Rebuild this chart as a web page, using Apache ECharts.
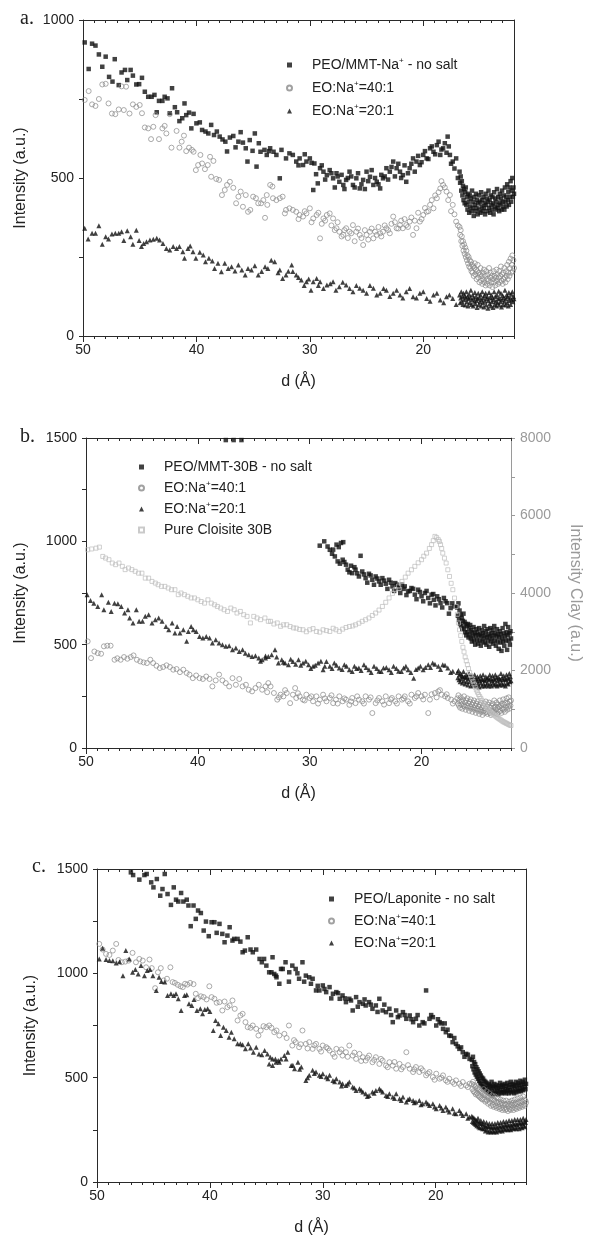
<!DOCTYPE html>
<html><head><meta charset="utf-8">
<script src="https://cdn.jsdelivr.net/npm/echarts@6/dist/echarts.min.js"></script>
<style>html,body{margin:0;padding:0;background:#fff}#c{width:591px;height:1238px}</style>
</head><body><div id="c"></div>
<script>
// ---------- DATA (d in Å, intensity in a.u.) ----------
const xMajor = [20, 30, 40, 50];
const legendA = ['PEO/MMT-Na+ - no salt', 'EO:Na+=40:1', 'EO:Na+=20:1'];
const legendB = ['PEO/MMT-30B - no salt', 'EO:Na+=40:1', 'EO:Na+=20:1', 'Pure Cloisite 30B'];
const legendC = ['PEO/Laponite - no salt', 'EO:Na+=40:1', 'EO:Na+=20:1'];

const aNoSalt = [[49.85,929],[49.5,845],[49.2,925],[48.9,919],[48.6,891],[48.3,852],[48.0,884],[47.7,820],[47.4,805],[47.2,876],[46.85,794],[46.6,834],[46.3,842],[46.1,810],[45.8,842],[45.6,824],[45.3,796],[45.05,797],[44.8,817],[44.55,773],[44.25,757],[43.95,757],[43.7,763],[43.5,708],[43.3,744],[43.0,744],[42.8,757],[42.55,752],[42.35,705],[42.15,784],[41.9,724],[41.7,708],[41.5,680],[41.25,689],[41.05,736],[40.9,699],[40.65,707],[40.45,657],[40.25,703],[40.0,673],[39.7,676],[39.5,652],[39.2,647],[38.95,641],[38.7,668],[38.45,636],[38.2,647],[37.95,631],[37.7,622],[37.45,615],[37.3,584],[37.05,628],[36.75,633],[36.55,597],[36.3,615],[36.1,645],[35.9,612],[35.65,594],[35.5,552],[35.3,620],[35.05,586],[34.85,641],[34.7,536],[34.5,610],[34.35,583],[34.0,589],[33.8,573],[33.6,585],[33.5,594],[33.2,583],[32.95,573],[32.65,499],[32.5,589],[32.1,562],[31.8,578],[31.5,573],[31.2,552],[30.9,562],[30.6,541],[30.3,552],[30.0,562],[29.7,462],[29.6,546],[29.3,483],[29.1,531],[28.8,520],[28.5,509],[28.25,525],[27.95,499],[27.65,515],[27.4,488],[27.05,478],[26.8,494],[26.5,520],[26.2,478],[25.9,499],[25.6,467],[25.3,494],[25.0,520],[24.7,504],[24.4,478],[24.1,488],[23.8,467],[23.55,499],[23.25,531],[22.95,520],[22.65,552],[22.35,531],[22.05,520],[21.8,509],[21.5,488],[21.2,531],[20.9,562],[20.6,552],[20.3,541],[20.0,573],[19.7,562],[19.4,594],[19.1,583],[18.8,604],[18.5,573],[18.25,594],[17.85,631],[17.65,573],[17.4,552],[17.1,562],
[31.0,540],[30.45,575],[29.85,548],[29.45,512],[28.95,540],[28.65,495],[28.1,515],[27.8,470],[27.55,505],[27.2,510],[26.95,465],[26.65,500],[26.35,505],[26.05,470],[25.75,515],[25.45,480],[25.15,465],[24.85,490],[24.55,525],[24.25,500],[23.95,480],[23.7,510],[23.4,505],[23.1,495],[22.8,535],[22.5,505],[22.2,545],[21.95,500],[21.65,540],[21.35,515],[21.05,545],[20.75,520],[20.45,570],[20.15,550],[19.85,585],[19.55,560],[19.25,600],[18.95,575],[18.65,615],[18.4,590],[18.1,610],[17.95,580],[17.75,600],[17.55,545],[17.25,530],[16.95,500],
[16.80,520],[16.75,485],[16.70,505],[16.65,460],[16.60,490],[16.55,445],[16.50,475],[16.45,430],[16.40,465],[16.35,420],[16.30,455],[16.25,470],[16.20,415],[16.15,440],[16.10,400],[16.05,450],[16.00,425],[15.95,390],[15.90,445],[15.85,410],[15.80,435],[15.75,395],[15.70,460],[15.65,405],[15.60,425],[15.55,380],[15.50,440],[15.45,415],[15.40,395],[15.35,450],[15.30,405],[15.25,430],[15.20,385],[15.15,420],[15.10,445],[15.05,400],[15.00,425],[14.95,390],[14.90,455],[14.85,410],[14.80,430],[14.75,395],[14.70,440],[14.65,405],[14.60,420],[14.55,385],[14.50,450],[14.45,415],[14.40,435],[14.35,395],[14.30,425],[14.25,460],[14.20,405],[14.15,430],[14.10,390],[14.05,445],[14.00,415],[13.95,400],[13.90,440],[13.85,420],[13.80,385],[13.75,455],[13.70,410],[13.65,435],[13.60,400],[13.55,425],[13.50,465],[13.45,405],[13.40,440],[13.35,415],[13.30,395],[13.25,450],[13.20,420],[13.15,435],[13.10,400],[13.05,460],[13.00,425],[12.95,410],[12.90,445],[12.85,400],[12.80,470],[12.75,425],[12.70,440],[12.65,410],[12.60,480],[12.55,430],[12.50,455],[12.45,415],[12.40,470],[12.35,440],[12.30,490],[12.25,425],[12.20,460],[12.15,500],[12.10,440],[12.05,470],[12.00,450]];

const a40 = [[49.85,747],[49.5,775],[49.2,733],[48.9,728],[48.6,750],[48.3,796],[48.0,798],[47.75,736],[47.45,704],[47.15,702],[46.85,717],[46.6,790],[46.4,715],[46.2,789],[45.9,704],[45.6,733],[45.3,725],[45.0,731],[44.8,705],[44.55,660],[44.25,657],[44.0,623],[43.8,662],[43.6,699],[43.3,623],[43.0,657],[42.8,665],[42.65,641],[42.35,702],[42.2,596],[41.75,649],[41.5,596],[41.3,615],[41.1,634],[40.9,585],[40.65,596],[40.4,589],[40.25,583],[40.05,525],[39.85,541],[39.65,573],[39.5,546],[39.25,528],[39.0,541],[38.8,567],[38.7,504],[38.5,554],[38.25,497],[38.0,494],[37.75,446],[37.5,462],[37.3,478],[37.05,488],[36.75,469],[36.5,420],[36.3,441],[36.1,457],[35.9,409],[35.65,446],[35.45,393],[35.25,399],[35.0,441],[34.75,436],[34.55,420],[34.3,420],[34.1,430],[33.95,374],[33.75,415],[33.5,478],[33.3,473],[33.8,446],[33.25,436],[32.95,430],[32.65,436],[32.4,441],[32.2,388],[32.1,399],[31.8,404],[31.5,399],[31.2,393],[30.9,383],[30.6,378],[30.3,388],[30.0,404],[29.7,372],[29.4,383],[29.1,309],[28.8,372],[28.5,383],[28.25,388],[27.95,372],[27.65,341],[27.4,330],[27.05,320],[26.8,341],[26.5,330],[26.2,351],[25.9,330],[25.6,320],[25.3,288],[25.0,320],[24.7,330],[24.4,309],[24.1,320],[23.8,325],[23.55,330],[23.25,341],[22.95,325],[22.65,378],[22.35,341],[22.05,351],[21.8,341],[21.5,351],[21.2,362],[20.9,320],[20.6,341],[20.3,362],[20.0,383],[19.7,393],[19.4,415],[19.1,404],[18.8,436],[18.5,467],[18.25,478],[17.95,457],[17.65,446],[17.4,415],[17.1,362],
[31.0,370],[30.45,395],[29.85,360],[29.25,390],[28.95,355],[28.65,365],[28.1,350],[27.8,335],[27.55,360],[27.2,315],[26.95,335],[26.65,310],[26.35,325],[26.05,300],[25.75,340],[25.45,310],[25.15,335],[24.85,305],[24.55,340],[24.25,330],[23.95,345],[23.7,315],[23.4,350],[23.1,335],[22.8,355],[22.5,360],[22.2,340],[21.95,365],[21.65,370],[21.35,345],[21.05,375],[20.75,365],[20.45,390],[20.15,370],[19.85,405],[19.55,395],[19.25,430],[18.95,445],[18.65,455],[18.4,490],[18.1,470],[17.8,430],[17.55,395],[17.25,385],[16.95,350],
[16.80,345],[16.75,320],[16.70,335],[16.65,300],[16.60,315],[16.55,285],[16.50,300],[16.45,270],[16.40,290],[16.35,260],[16.30,280],[16.25,250],[16.20,270],[16.15,240],[16.10,255],[16.05,230],[16.00,250],[15.95,220],[15.90,240],[15.85,215],[15.80,235],[15.75,205],[15.70,225],[15.65,200],[15.60,220],[15.55,190],[15.50,215],[15.45,230],[15.40,195],[15.35,210],[15.30,180],[15.25,205],[15.20,225],[15.15,185],[15.10,200],[15.05,170],[15.00,195],[14.95,215],[14.90,175],[14.85,190],[14.80,165],[14.75,200],[14.70,180],[14.65,210],[14.60,170],[14.55,190],[14.50,160],[14.45,205],[14.40,180],[14.35,165],[14.30,195],[14.25,175],[14.20,215],[14.15,160],[14.10,185],[14.05,200],[14.00,170],[13.95,190],[13.90,155],[13.85,180],[13.80,205],[13.75,170],[13.70,190],[13.65,160],[13.60,185],[13.55,210],[13.50,175],[13.45,195],[13.40,165],[13.35,185],[13.30,205],[13.25,170],[13.20,190],[13.15,220],[13.10,175],[13.05,195],[13.00,165],[12.95,200],[12.90,180],[12.85,215],[12.80,185],[12.75,170],[12.70,205],[12.65,190],[12.60,225],[12.55,180],[12.50,200],[12.45,235],[12.40,190],[12.35,215],[12.30,245],[12.25,200],[12.20,225],[12.15,255],[12.10,205],[12.05,240],[12.00,215]];

const a20 = [[49.85,341],[49.55,307],[49.2,325],[48.9,325],[48.6,349],[48.3,290],[48.0,314],[47.75,307],[47.45,323],[47.15,325],[46.85,325],[46.6,330],[46.4,302],[46.1,333],[45.8,314],[45.6,290],[45.3,335],[45.05,302],[44.85,283],[44.65,293],[44.4,298],[44.1,304],[43.8,306],[43.5,309],[43.25,304],[42.95,293],[42.65,277],[42.35,272],[42.05,283],[41.75,277],[41.5,283],[41.2,267],[41.05,246],[40.75,277],[40.55,285],[40.3,267],[40.05,246],[39.7,265],[39.4,256],[39.2,235],[38.9,246],[38.6,237],[38.4,214],[38.1,230],[37.8,203],[37.5,230],[37.2,214],[36.9,219],[36.6,206],[36.3,225],[36.0,209],[35.7,193],[35.45,214],[35.15,209],[34.85,222],[34.55,193],[34.25,204],[33.95,219],[33.7,214],[33.4,240],[33.1,235],[32.65,209],[32.4,182],[32.1,193],[31.6,225],[31.5,204],[31.2,193],[30.75,177],[30.3,172],[29.9,145],[29.7,172],[29.4,182],[29.1,172],[28.5,161],[27.95,172],[27.4,156],[26.8,161],[26.2,140],[25.6,151],[25.0,135],[24.4,151],[23.8,135],[23.25,145],[22.65,135],[22.05,130],[21.5,140],[20.9,124],[20.3,135],[19.7,119],[19.1,130],[18.5,114],[17.95,124],[17.4,119],
[32.8,200],[31.9,205],[31.0,185],[30.5,160],[30.1,180],[29.25,160],[28.8,150],[28.2,165],[27.7,145],[27.1,170],[26.5,150],[25.9,160],[25.3,145],[24.7,160],[24.1,130],[23.5,150],[22.95,125],[22.35,145],[21.8,120],[21.2,150],[20.6,120],[20.0,140],[19.4,110],[18.8,135],[18.2,105],[17.7,130],[17.1,100],
[16.80,130],[16.75,105],[16.70,120],[16.65,140],[16.60,110],[16.55,125],[16.50,100],[16.45,135],[16.40,115],[16.35,128],[16.30,98],[16.25,120],[16.20,140],[16.15,108],[16.10,125],[16.05,95],[16.00,118],[15.95,132],[15.90,105],[15.85,122],[15.80,145],[15.75,100],[15.70,115],[15.65,130],[15.60,95],[15.55,120],[15.50,110],[15.45,138],[15.40,102],[15.35,125],[15.30,112],[15.25,90],[15.20,118],[15.15,135],[15.10,100],[15.05,122],[15.00,108],[14.95,130],[14.90,95],[14.85,115],[14.80,140],[14.75,105],[14.70,120],[14.65,92],[14.60,128],[14.55,110],[14.50,135],[14.45,98],[14.40,118],[14.35,125],[14.30,88],[14.25,112],[14.20,138],[14.15,102],[14.10,120],[14.05,95],[14.00,130],[13.95,108],[13.90,122],[13.85,90],[13.80,115],[13.75,140],[13.70,100],[13.65,125],[13.60,110],[13.55,95],[13.50,130],[13.45,105],[13.40,118],[13.35,142],[13.30,98],[13.25,120],[13.20,108],[13.15,135],[13.10,92],[13.05,115],[13.00,128],[12.95,100],[12.90,122],[12.85,110],[12.80,145],[12.75,98],[12.70,118],[12.65,130],[12.60,105],[12.55,125],[12.50,95],[12.45,138],[12.40,112],[12.35,120],[12.30,100],[12.25,132],[12.20,115],[12.15,140],[12.10,108],[12.05,125],[12.00,118]];

const bNoSalt = [[37.5,1490],[36.8,1490],[36.1,1490],[29.1,979],[28.7,1000],[28.4,975],[28.2,959],[28.0,940],[27.9,960],[27.75,927],[27.6,984],[27.5,903],[27.4,972],[27.3,892],[27.2,992],[27.05,911],[27.0,996],[26.9,900],[26.75,887],[26.6,863],[26.45,850],[26.3,882],[26.2,846],[26.0,875],[25.9,863],[25.75,845],[25.6,830],[25.45,930],[25.3,854],[25.15,840],[25.0,822],[24.85,800],[24.7,843],[24.55,835],[24.4,814],[24.25,790],[24.1,830],[23.95,820],[23.8,806],[23.65,790],[23.5,822],[23.35,810],[23.2,795],[23.05,770],[22.9,814],[22.75,800],[22.6,782],[22.45,760],[22.35,798],[22.2,790],[22.05,774],[21.9,750],[21.75,790],[21.6,770],[21.5,782],[21.35,740],[21.2,758],[21.05,760],[20.9,774],[20.75,770],[20.6,742],[20.45,720],[20.3,766],[20.15,755],[20.0,734],[19.85,710],[19.7,750],[19.55,760],[19.4,726],[19.25,700],[19.1,742],[18.95,745],[18.9,717],[18.75,690],[18.6,734],[18.45,720],[18.3,701],[18.15,680],[18.0,726],[17.85,710],[17.7,701],[17.55,650],[17.4,677],[17.25,700],[17.05,685],
[16.80,680],[16.75,640],[16.70,700],[16.65,620],[16.60,665],[16.55,600],[16.50,645],[16.45,590],[16.40,630],[16.35,575],[16.30,615],[16.25,650],[16.20,580],[16.15,610],[16.10,560],[16.05,600],[16.00,545],[15.95,590],[15.90,560],[15.85,600],[15.80,535],[15.75,580],[15.70,550],[15.65,595],[15.60,530],[15.55,570],[15.50,515],[15.45,560],[15.40,540],[15.35,585],[15.30,520],[15.25,555],[15.20,500],[15.15,545],[15.10,575],[15.05,525],[15.00,560],[14.95,505],[14.90,545],[14.85,580],[14.80,520],[14.75,550],[14.70,495],[14.65,540],[14.60,570],[14.55,515],[14.50,555],[14.45,530],[14.40,590],[14.35,510],[14.30,545],[14.25,565],[14.20,500],[14.15,535],[14.10,575],[14.05,520],[14.00,550],[13.95,490],[13.90,540],[13.85,580],[13.80,515],[13.75,555],[13.70,530],[13.65,570],[13.60,505],[13.55,545],[13.50,590],[13.45,520],[13.40,555],[13.35,495],[13.30,540],[13.25,575],[13.20,515],[13.15,550],[13.10,480],[13.05,535],[13.00,565],[12.95,510],[12.90,550],[12.85,470],[12.80,530],[12.75,580],[12.70,515],[12.65,555],[12.60,495],[12.55,540],[12.50,600],[12.45,520],[12.40,560],[12.35,475],[12.30,545],[12.25,585],[12.20,520],[12.15,555],[12.10,500],[12.05,565],[12.00,530]];

const b40 = [[49.85,516],[49.55,435],[49.25,467],[48.95,459],[48.65,456],[48.4,492],[48.1,495],[47.8,495],[47.45,427],[47.2,434],[46.9,427],[46.6,440],[46.3,432],[46.0,440],[45.75,448],[45.45,427],[45.15,419],[44.85,414],[44.55,411],[44.25,427],[44.0,411],[43.7,398],[43.4,387],[43.1,392],[42.8,400],[42.5,392],[42.2,379],[41.9,382],[41.6,367],[41.3,379],[41.0,363],[40.75,355],[40.45,338],[40.15,351],[39.85,338],[39.55,334],[39.25,346],[38.95,334],[38.7,298],[38.4,327],[38.1,355],[37.8,327],[37.5,314],[37.2,298],[36.9,338],[36.6,306],[36.3,334],[36.0,298],[35.7,306],[35.45,282],[35.15,274],[34.85,290],[34.55,306],[34.25,282],[33.95,298],[33.7,314],[33.5,298],[33.2,266],[32.9,234],[32.6,258],[32.35,250],[32.05,266],[31.75,217],[31.5,258],[31.3,290],[31.2,242],[30.9,250],[30.6,234],[30.3,258],[30.0,242],[29.7,226],[29.4,250],[29.1,234],[28.8,258],[28.5,226],[28.2,242],[27.9,217],[27.65,234],[27.35,250],[27.05,226],[26.75,234],[26.45,209],[26.2,242],[25.9,217],[25.6,234],[25.3,226],[25.0,250],[24.7,234],[24.4,169],[24.1,217],[23.8,242],[23.5,226],[23.2,250],[22.9,217],[22.65,242],[22.35,226],[22.05,250],[21.75,234],[21.5,250],[21.2,226],[20.9,258],[20.6,242],[20.3,266],[20.0,250],[19.7,258],[19.4,169],[19.25,234],[18.8,266],[18.5,274],[18.2,258],[17.9,250],[17.65,242],[17.35,234],[17.05,226],
[33.8,270],[32.75,245],[32.2,280],[31.05,265],[30.45,230],[29.85,250],[29.25,215],[28.65,240],[28.05,255],[27.5,215],[26.9,240],[26.3,225],[25.75,250],[25.15,215],[24.55,245],[23.95,230],[23.35,210],[22.75,235],[22.2,215],[21.6,240],[21.05,215],[20.45,250],[19.85,235],[19.1,260],[18.65,245],[18.35,280],[17.75,260],[17.2,215],
[16.80,240],[16.75,215],[16.70,255],[16.65,205],[16.60,230],[16.55,195],[16.50,245],[16.45,210],[16.40,225],[16.35,190],[16.30,235],[16.25,205],[16.20,250],[16.15,200],[16.10,220],[16.05,185],[16.00,230],[15.95,205],[15.90,240],[15.85,195],[15.80,215],[15.75,180],[15.70,225],[15.65,200],[15.60,235],[15.55,190],[15.50,210],[15.45,175],[15.40,220],[15.35,195],[15.30,230],[15.25,185],[15.20,205],[15.15,170],[15.10,215],[15.05,190],[15.00,225],[14.95,180],[14.90,200],[14.85,165],[14.80,210],[14.75,185],[14.70,220],[14.65,175],[14.60,195],[14.55,160],[14.50,205],[14.45,180],[14.40,215],[14.35,170],[14.30,190],[14.25,225],[14.20,175],[14.15,200],[14.10,165],[14.05,210],[14.00,185],[13.95,220],[13.90,170],[13.85,195],[13.80,160],[13.75,205],[13.70,180],[13.65,215],[13.60,175],[13.55,195],[13.50,230],[13.45,170],[13.40,200],[13.35,185],[13.30,220],[13.25,165],[13.20,195],[13.15,210],[13.10,175],[13.05,200],[13.00,230],[12.95,180],[12.90,205],[12.85,170],[12.80,215],[12.75,190],[12.70,235],[12.65,185],[12.60,210],[12.55,175],[12.50,220],[12.45,195],[12.40,240],[12.35,185],[12.30,215],[12.25,200],[12.20,245],[12.15,190],[12.10,225],[12.05,205],[12.00,230]];

const b20 = [[49.9,742],[49.6,714],[49.3,701],[48.95,685],[48.6,742],[48.4,669],[48.0,705],[47.75,661],[47.45,701],[47.15,698],[46.85,685],[46.55,653],[46.25,669],[46.1,629],[45.8,605],[45.5,669],[45.25,613],[44.95,613],[44.7,637],[44.4,645],[44.1,605],[43.8,621],[43.5,629],[43.2,613],[42.85,588],[42.6,572],[42.3,605],[42.05,556],[41.85,588],[41.6,556],[41.3,572],[41.0,516],[40.85,564],[40.6,588],[40.4,572],[40.15,564],[39.85,540],[39.55,532],[39.25,540],[38.95,532],[38.7,508],[38.4,524],[38.1,508],[37.8,500],[37.5,492],[37.2,495],[36.9,475],[36.6,484],[36.3,467],[36.0,475],[35.75,459],[35.45,451],[35.15,443],[34.85,446],[34.55,435],[34.25,427],[33.95,435],[33.7,443],[33.4,451],[33.1,475],[32.8,411],[32.5,427],[32.2,411],[31.9,403],[31.5,419],[31.0,427],[30.6,411],[30.1,403],[29.7,395],[29.25,411],[28.8,379],[28.5,419],[28.2,395],[27.8,411],[27.35,387],[26.9,403],[26.45,379],[26.0,395],[25.6,387],[25.15,403],[24.7,379],[24.25,395],[23.8,371],[23.4,387],[22.9,379],[22.5,395],[22.05,371],[21.6,387],[21.2,379],[20.7,338],[20.3,387],[19.85,379],[19.4,403],[19.0,411],[18.5,395],[18.1,403],[17.65,387],[17.2,371],
[34.4,420],[33.95,445],[32.95,440],[32.35,415],[31.7,430],[31.25,405],[30.8,400],[30.35,420],[29.9,385],[29.5,400],[29.0,420],[28.65,395],[28.0,385],[27.6,400],[27.1,380],[26.7,395],[26.2,370],[25.8,385],[25.4,375],[24.95,390],[24.5,365],[24.0,385],[23.6,370],[23.15,390],[22.7,365],[22.25,385],[21.8,370],[21.4,395],[20.95,365],[20.5,380],[20.1,395],[19.65,390],[19.2,390],[18.8,405],[18.3,380],[17.9,400],[17.4,365],
[16.80,365],[16.75,340],[16.70,375],[16.65,330],[16.60,355],[16.55,320],[16.50,360],[16.45,335],[16.40,350],[16.35,315],[16.30,345],[16.25,370],[16.20,325],[16.15,345],[16.10,310],[16.05,340],[16.00,355],[15.95,320],[15.90,345],[15.85,305],[15.80,335],[15.75,360],[15.70,320],[15.65,340],[15.60,300],[15.55,335],[15.50,350],[15.45,315],[15.40,340],[15.35,305],[15.30,330],[15.25,355],[15.20,310],[15.15,335],[15.10,300],[15.05,325],[15.00,345],[14.95,310],[14.90,335],[14.85,295],[14.80,325],[14.75,350],[14.70,315],[14.65,335],[14.60,300],[14.55,330],[14.50,355],[14.45,310],[14.40,330],[14.35,300],[14.30,325],[14.25,345],[14.20,305],[14.15,335],[14.10,315],[14.05,340],[14.00,300],[13.95,330],[13.90,355],[13.85,310],[13.80,335],[13.75,300],[13.70,325],[13.65,350],[13.60,315],[13.55,335],[13.50,305],[13.45,330],[13.40,355],[13.35,310],[13.30,340],[13.25,300],[13.20,325],[13.15,345],[13.10,310],[13.05,335],[13.00,305],[12.95,330],[12.90,360],[12.85,315],[12.80,340],[12.75,305],[12.70,330],[12.65,350],[12.60,310],[12.55,335],[12.50,300],[12.45,330],[12.40,355],[12.35,315],[12.30,340],[12.25,310],[12.20,335],[12.15,360],[12.10,320],[12.05,345],[12.00,325]];

const bClay = [[49.85,5115],[49.5,5136],[49.1,5157],[48.8,5184],[48.5,4944],[48.25,4901],[47.95,4859],[47.65,4773],[47.35,4731],[47.05,4773],[46.75,4688],[46.5,4603],[46.2,4645],[45.9,4603],[45.6,4560],[45.3,4512],[45.0,4512],[44.7,4384],[44.4,4384],[44.1,4299],[43.8,4256],[43.55,4213],[43.25,4171],[42.95,4171],[42.65,4128],[42.35,4085],[42.05,4085],[41.75,3957],[41.5,4000],[41.2,3957],[40.9,3915],[40.6,3872],[40.3,3872],[40.0,3824],[39.7,3781],[39.4,3739],[39.1,3824],[38.8,3739],[38.5,3696],[38.25,3653],[37.95,3611],[37.65,3568],[37.35,3525],[37.05,3611],[36.75,3568],[36.5,3483],[36.2,3525],[35.9,3440],[35.6,3397],[35.3,3227],[35.0,3397],[34.7,3355],[34.4,3312],[34.0,3355],[33.7,3269],[33.5,3269],[32.9,3227],[32.35,3179],[31.75,3136],[31.2,3093],[30.6,3051],[30.0,3051],[29.4,3008],[28.8,3051],[28.2,3008],[27.65,3051],[27.05,3067],[26.45,3136],[25.9,3179],[25.3,3269],[24.7,3355],[24.1,3483],[23.5,3653],[22.9,3872],[22.35,4085],[21.75,4299],[21.2,4512],[20.6,4688],[20.0,4859],[19.55,5029],[19.1,5248],[18.8,5461],[18.5,5376],[18.3,5248],[18.1,5029],[17.8,4773],[17.5,4427],[17.2,4085],[16.9,3653],[16.7,3227],
[33.2,3200],[32.6,3140],[32.05,3180],[31.45,3100],[30.9,3060],[30.3,3000],[29.7,3080],[29.1,2990],[28.5,3030],[27.9,3090],[27.35,3010],[26.75,3110],[26.15,3150],[25.6,3220],[25.0,3310],[24.4,3420],[23.8,3560],[23.2,3760],[22.6,3990],[22.05,4180],[21.45,4410],[20.9,4600],[20.3,4780],[19.8,4950],[19.3,5150],[18.95,5350],[18.65,5430],[18.4,5330],[18.2,5150],[17.95,4900],[17.65,4600],[17.35,4250],[17.05,3870],[16.8,3450],
[16.6,3050],[16.5,2900],[16.4,2750],[16.3,2600],[16.2,2480],[16.1,2350],[16.0,2250],[15.9,2150],[15.8,2050],[15.7,1950],[15.6,1870],[15.5,1800],[15.4,1720],[15.3,1650],[15.2,1570],[15.1,1500],[15.0,1440],[14.9,1380],[14.8,1330],[14.7,1280],[14.6,1230],[14.5,1180],[14.4,1140],[14.3,1100],[14.2,1060],[14.1,1030],[14.0,990],[13.9,960],[13.8,930],[13.7,900],[13.6,875],[13.5,850],[13.4,825],[13.3,800],[13.2,780],[13.1,760],[13.0,740],[12.9,720],[12.8,700],[12.7,680],[12.6,665],[12.5,650],[12.4,635],[12.3,620],[12.2,605],[12.1,590],[12.0,580]];

const cNoSalt = [[47.0,1484],[46.8,1471],[46.25,1449],[45.8,1471],[45.6,1476],[45.2,1436],[45.0,1412],[44.7,1452],[44.4,1372],[44.2,1404],[44.0,1476],[43.75,1380],[43.45,1328],[43.2,1412],[43.0,1353],[42.8,1344],[42.55,1385],[42.35,1344],[42.05,1353],[41.9,1325],[41.7,1226],[41.45,1325],[41.25,1261],[41.05,1301],[40.8,1289],[40.55,1205],[40.35,1248],[40.1,1178],[39.85,1245],[39.6,1245],[39.4,1194],[39.15,1237],[38.9,1189],[38.7,1149],[38.45,1181],[38.25,1221],[38.0,1157],[37.85,1165],[37.55,1165],[37.3,1152],[37.1,1101],[36.9,1109],[36.65,1173],[36.4,1114],[36.2,1101],[35.9,1114],[35.6,1069],[35.4,1053],[35.2,1069],[35.0,1037],[34.75,1005],[34.55,1005],[34.3,997],[34.1,981],[33.85,950],[33.7,1021],[34.45,1077],[34.15,989],[33.55,1021],[33.3,1053],[32.97,1005],[32.7,1037],[32.4,1021],[32.1,974],[31.8,1053],[31.5,989],[31.2,981],[30.9,974],[30.6,918],[30.3,918],[30.0,942],[29.7,910],[29.4,934],[29.1,902],[28.8,910],[28.5,878],[28.25,894],[27.95,862],[27.65,878],[27.35,822],[27.05,886],[26.75,862],[26.45,854],[26.2,846],[25.9,862],[25.6,830],[25.3,846],[24.99,878],[24.7,822],[24.4,814],[24.1,830],[23.8,766],[23.5,822],[23.2,798],[22.9,814],[22.6,782],[22.3,798],[22.0,766],[21.75,782],[21.45,750],[21.15,766],[20.85,918],[20.55,782],[20.25,790],[19.95,750],[19.65,766],[19.35,734],[19.1,718],[18.8,702],[18.5,670],[18.2,662],[17.9,638],[17.6,622],[17.3,614],[17.0,590],
[33.0,960],[32.25,1000],[31.65,960],[31.05,950],[30.45,940],[29.85,925],[29.25,880],[28.65,905],[28.05,880],[27.5,870],[26.9,840],[26.3,875],[25.75,850],[25.15,815],[24.55,850],[23.95,800],[23.35,790],[22.75,800],[22.15,780],[21.6,800],[21.0,760],[20.4,800],[19.8,780],[19.5,760],[19.2,760],[18.95,730],[18.65,700],[18.35,690],[18.05,650],[17.75,645],[17.45,600],[17.15,610],
[16.80,585],[16.75,555],[16.70,600],[16.65,540],[16.60,575],[16.55,525],[16.50,565],[16.45,515],[16.40,550],[16.35,505],[16.30,540],[16.25,495],[16.20,530],[16.15,485],[16.10,520],[16.05,475],[16.00,510],[15.95,470],[15.90,500],[15.85,460],[15.80,495],[15.75,455],[15.70,485],[15.65,450],[15.60,480],[15.55,440],[15.50,475],[15.45,450],[15.40,465],[15.35,430],[15.30,470],[15.25,440],[15.20,460],[15.15,425],[15.10,455],[15.05,480],[15.00,435],[14.95,460],[14.90,420],[14.85,450],[14.80,470],[14.75,430],[14.70,455],[14.65,425],[14.60,465],[14.55,435],[14.50,450],[14.45,420],[14.40,460],[14.35,440],[14.30,475],[14.25,430],[14.20,455],[14.15,425],[14.10,465],[14.05,440],[14.00,460],[13.95,430],[13.90,470],[13.85,445],[13.80,425],[13.75,460],[13.70,435],[13.65,475],[13.60,440],[13.55,455],[13.50,425],[13.45,465],[13.40,440],[13.35,480],[13.30,430],[13.25,455],[13.20,470],[13.15,435],[13.10,460],[13.05,425],[13.00,465],[12.95,445],[12.90,480],[12.85,430],[12.80,460],[12.75,440],[12.70,475],[12.65,435],[12.60,465],[12.55,450],[12.50,485],[12.45,435],[12.40,465],[12.35,445],[12.30,480],[12.25,440],[12.20,470],[12.15,455],[12.10,490],[12.05,445],[12.00,470]];

const c40 = [[49.8,1141],[49.5,1114],[49.2,1093],[48.9,1088],[48.6,1109],[48.3,1141],[48.1,1064],[47.8,1053],[47.5,1056],[47.2,1061],[46.85,1098],[46.55,1053],[46.25,1069],[45.95,1061],[45.65,1029],[45.35,1066],[45.15,1025],[44.85,929],[44.6,1005],[44.35,1025],[44.1,966],[43.8,974],[43.5,1029],[43.3,958],[43.1,954],[42.85,945],[42.6,938],[42.4,934],[42.2,950],[42.0,946],[41.75,954],[41.45,948],[41.25,902],[41.05,881],[40.8,890],[40.55,886],[40.3,875],[40.05,938],[39.85,886],[39.6,878],[39.4,859],[39.15,862],[38.9,822],[38.7,865],[38.45,838],[38.25,846],[38.0,870],[37.8,830],[37.55,774],[37.3,798],[37.1,806],[36.85,766],[36.65,742],[36.4,739],[36.2,750],[35.9,734],[35.7,702],[35.5,726],[35.25,747],[35.0,742],[34.75,750],[34.55,739],[34.3,718],[34.1,726],[33.85,702],[33.4,710],[33.0,750],[32.7,654],[32.4,670],[32.1,646],[31.8,726],[31.5,662],[31.2,670],[30.9,638],[30.6,662],[30.3,638],[30.0,654],[29.7,646],[29.4,630],[29.1,614],[28.8,638],[28.5,622],[28.25,606],[27.95,622],[27.65,654],[27.35,606],[27.05,590],[26.75,614],[26.45,598],[26.2,582],[25.9,606],[25.6,574],[25.3,598],[24.99,566],[24.7,582],[24.4,558],[24.1,574],[23.8,558],[23.5,543],[23.2,566],[22.9,551],[22.6,622],[22.3,543],[22.0,527],[21.75,551],[21.45,527],[21.15,535],[20.85,511],[20.55,527],[20.25,503],[19.95,519],[19.65,495],[19.35,511],[19.1,487],[18.8,495],[18.5,479],[18.2,487],[17.9,471],[17.6,479],[17.3,463],[17.0,471],
[33.2,690],[32.55,680],[31.95,660],[31.35,640],[30.75,655],[30.15,625],[29.55,640],[28.95,600],[28.35,635],[27.8,600],[27.2,620],[26.6,580],[26.05,595],[25.45,585],[24.85,590],[24.25,550],[23.65,575],[23.05,540],[22.45,560],[21.9,540],[21.3,545],[20.7,520],[20.1,490],[19.5,500],[18.95,480],[18.35,470],[17.75,460],[17.15,455],
[16.80,470],[16.75,445],[16.70,480],[16.65,435],[16.60,465],[16.55,430],[16.50,455],[16.45,420],[16.40,460],[16.35,425],[16.30,450],[16.25,415],[16.20,445],[16.15,410],[16.10,440],[16.05,405],[16.00,435],[15.95,400],[15.90,430],[15.85,395],[15.80,425],[15.75,445],[15.70,395],[15.65,420],[15.60,385],[15.55,415],[15.50,435],[15.45,390],[15.40,410],[15.35,375],[15.30,405],[15.25,425],[15.20,380],[15.15,400],[15.10,365],[15.05,395],[15.00,415],[14.95,370],[14.90,395],[14.85,360],[14.80,390],[14.75,410],[14.70,365],[14.65,385],[14.60,355],[14.55,380],[14.50,400],[14.45,360],[14.40,385],[14.35,350],[14.30,375],[14.25,395],[14.20,355],[14.15,380],[14.10,345],[14.05,370],[14.00,390],[13.95,355],[13.90,375],[13.85,345],[13.80,370],[13.75,390],[13.70,350],[13.65,375],[13.60,340],[13.55,365],[13.50,385],[13.45,350],[13.40,375],[13.35,345],[13.30,370],[13.25,390],[13.20,355],[13.15,380],[13.10,345],[13.05,370],[13.00,395],[12.95,355],[12.90,380],[12.85,350],[12.80,375],[12.75,400],[12.70,360],[12.65,385],[12.60,355],[12.55,380],[12.50,405],[12.45,365],[12.40,390],[12.35,360],[12.30,385],[12.25,410],[12.20,370],[12.15,395],[12.10,365],[12.05,390],[12.00,380]];

const c20 = [[49.8,1069],[49.5,1120],[49.2,1066],[48.9,1061],[48.6,1060],[48.3,1050],[48.0,1056],[47.7,989],[47.45,1109],[47.15,1069],[46.85,1005],[46.6,1018],[46.35,997],[46.1,1037],[45.8,989],[45.55,1013],[45.3,1018],[45.05,989],[44.75,918],[44.5,981],[44.3,961],[44.0,958],[43.75,894],[43.45,902],[43.2,894],[43.0,902],[42.8,878],[42.55,822],[42.25,894],[42.05,897],[41.85,854],[41.6,846],[41.4,875],[41.15,822],[40.85,830],[40.65,806],[40.45,827],[40.2,830],[40.0,817],[39.7,726],[39.5,774],[39.25,758],[39.05,702],[38.8,742],[38.55,726],[38.3,694],[38.1,718],[37.85,686],[37.55,662],[37.3,662],[37.1,658],[36.85,638],[36.6,662],[36.4,642],[36.15,622],[35.9,646],[35.65,614],[35.4,610],[35.15,630],[34.9,614],[34.65,598],[34.45,558],[34.2,590],[33.95,582],[33.7,590],[34.75,566],[34.45,590],[34.15,574],[33.85,574],[33.4,606],[33.1,622],[32.8,558],[32.5,543],[32.2,574],[31.9,551],[31.5,487],[31.2,511],[30.9,535],[30.6,527],[30.3,511],[30.0,519],[29.7,503],[29.4,511],[29.1,487],[28.8,495],[28.5,479],[28.25,471],[27.95,463],[27.65,479],[27.35,455],[27.05,439],[26.75,447],[26.45,431],[26.2,423],[25.9,415],[25.6,431],[25.3,439],[24.99,447],[24.7,431],[24.4,415],[24.1,423],[23.8,407],[23.5,423],[23.2,399],[22.9,407],[22.6,383],[22.3,399],[22.0,391],[21.75,383],[21.45,391],[21.15,375],[20.85,383],[20.55,367],[20.25,375],[19.95,351],[19.65,367],[19.35,343],[19.1,359],[18.8,335],[18.5,351],[18.2,327],[17.9,343],[17.6,319],[17.3,327],[17.0,311],
[33.25,590],[32.65,560],[32.05,540],[31.35,500],[30.75,520],[30.15,505],[29.55,495],[28.95,480],[28.35,460],[27.8,470],[27.2,450],[26.6,440],[26.05,410],[25.45,425],[24.85,440],[24.25,410],[23.65,400],[23.05,390],[22.45,395],[21.9,380],[21.3,370],[20.7,375],[20.1,360],[19.5,355],[18.95,345],[18.35,330],[17.75,330],[17.15,305],
[16.80,315],[16.75,290],[16.70,310],[16.65,285],[16.60,305],[16.55,280],[16.50,300],[16.45,275],[16.40,295],[16.35,270],[16.30,290],[16.25,305],[16.20,265],[16.15,285],[16.10,260],[16.05,280],[16.00,295],[15.95,260],[15.90,280],[15.85,255],[15.80,275],[15.75,290],[15.70,255],[15.65,270],[15.60,245],[15.55,265],[15.50,285],[15.45,250],[15.40,270],[15.35,240],[15.30,265],[15.25,280],[15.20,245],[15.15,265],[15.10,240],[15.05,260],[15.00,280],[14.95,245],[14.90,265],[14.85,240],[14.80,260],[14.75,280],[14.70,245],[14.65,265],[14.60,240],[14.55,260],[14.50,285],[14.45,250],[14.40,270],[14.35,245],[14.30,265],[14.25,285],[14.20,250],[14.15,270],[14.10,245],[14.05,265],[14.00,290],[13.95,255],[13.90,275],[13.85,250],[13.80,270],[13.75,290],[13.70,255],[13.65,275],[13.60,250],[13.55,270],[13.50,295],[13.45,255],[13.40,275],[13.35,250],[13.30,270],[13.25,295],[13.20,260],[13.15,280],[13.10,255],[13.05,275],[13.00,300],[12.95,260],[12.90,280],[12.85,255],[12.80,275],[12.75,300],[12.70,265],[12.65,285],[12.60,255],[12.55,280],[12.50,300],[12.45,265],[12.40,285],[12.35,260],[12.30,280],[12.25,305],[12.20,270],[12.15,290],[12.10,265],[12.05,285],[12.00,300]];

// ---------- STYLE ----------
const FONT = '"Liberation Sans", Arial, sans-serif';
const AX = '#2a2a2a', TX = '#222', GRAY = '#8a8a8a', LGRAY = '#bdbdbd', CLAYAX = '#9a9a9a';

const grids = [
  {left: 83, top: 20, width: 431, height: 316},
  {left: 86, top: 438, width: 431, height: 310},
  {left: 97, top: 869, width: 429, height: 313}
];

function xAxesFor(g, nameGap) {
  const base = {type: 'value', gridIndex: g, min: 12, max: 50, inverse: true, splitLine: {show: false}};
  const ls = {color: AX, width: 1};
  return [
    Object.assign({}, base, {position: 'bottom', interval: 1,
      axisLine: {lineStyle: ls}, axisTick: {length: 3, lineStyle: ls},
      axisLabel: {formatter: v => (v % 10 === 0 ? String(v) : ''), fontSize: 14, color: TX, fontFamily: FONT, margin: 7},
      name: 'd (Å)', nameLocation: 'middle', nameGap: nameGap,
      nameTextStyle: {fontSize: 16, color: TX, fontFamily: FONT}}),
    Object.assign({}, base, {position: 'bottom', axisLine: {show: false},
      axisTick: {customValues: xMajor, length: 6, lineStyle: ls},
      axisLabel: {show: false, customValues: xMajor}}),
    Object.assign({}, base, {position: 'top', interval: 1,
      axisLine: {lineStyle: ls}, axisTick: {inside: true, length: 3, lineStyle: ls},
      axisLabel: {show: false}}),
    Object.assign({}, base, {position: 'top', axisLine: {show: false},
      axisTick: {inside: true, customValues: xMajor, length: 6, lineStyle: ls},
      axisLabel: {show: false, customValues: xMajor}})
  ];
}

function leftY(g, max, nameGap) {
  return {type: 'value', gridIndex: g, position: 'left', min: 0, max: max, interval: 250,
    axisLine: {show: true, lineStyle: {color: AX}}, axisTick: {show: true, length: 4, lineStyle: {color: AX}},
    axisLabel: {formatter: v => (v % 500 === 0 ? String(v) : ''), fontSize: 14, color: TX, fontFamily: FONT, margin: 9},
    splitLine: {show: false},
    name: 'Intensity (a.u.)', nameLocation: 'middle', nameGap: nameGap,
    nameTextStyle: {fontSize: 16, color: TX, fontFamily: FONT}};
}
function rightLine(g) {
  return {type: 'value', gridIndex: g, position: 'right', min: 0, max: 1,
    axisLine: {show: true, lineStyle: {color: AX}}, axisTick: {show: false},
    axisLabel: {show: false}, splitLine: {show: false}};
}

const xAxis = [].concat(xAxesFor(0, 38), xAxesFor(1, 38), xAxesFor(2, 38));
const yAxis = [
  leftY(0, 1000, 54), rightLine(0),
  leftY(1, 1500, 57),
  {type: 'value', gridIndex: 1, position: 'right', min: 0, max: 8000, interval: 1000,
    axisLine: {show: true, lineStyle: {color: CLAYAX}}, axisTick: {show: true, length: 4, lineStyle: {color: CLAYAX}},
    axisLabel: {formatter: v => (v % 2000 === 0 ? String(v) : ''), fontSize: 14, color: CLAYAX, fontFamily: FONT, margin: 9},
    splitLine: {show: false},
    name: 'Intensity Clay (a.u.)', nameLocation: 'middle', nameGap: 56, nameRotate: -90,
    nameTextStyle: {fontSize: 16, color: CLAYAX, fontFamily: FONT}},
  leftY(2, 1500, 58), rightLine(2)
];

function sq(name, data, xi, yi) {
  return {type: 'scatter', name, data, xAxisIndex: xi, yAxisIndex: yi, symbol: 'rect', symbolSize: 4.5,
    itemStyle: {color: '#111'}, animation: false};
}
function tri(name, data, xi, yi) {
  return {type: 'scatter', name, data, xAxisIndex: xi, yAxisIndex: yi, symbol: 'triangle', symbolSize: 5,
    itemStyle: {color: '#111'}, animation: false};
}
function circ(name, data, xi, yi) {
  return {type: 'scatter', name, data, xAxisIndex: xi, yAxisIndex: yi, symbol: 'circle', symbolSize: 5,
    itemStyle: {color: 'rgba(255,255,255,0)', borderColor: GRAY, borderWidth: 0.9}, animation: false};
}
function osq(name, data, xi, yi) {
  return {type: 'scatter', name, data, xAxisIndex: xi, yAxisIndex: yi, symbol: 'rect', symbolSize: 4,
    itemStyle: {color: 'rgba(255,255,255,0)', borderColor: LGRAY, borderWidth: 0.9}, animation: false};
}

const series = [
  sq('a1', aNoSalt, 0, 0), circ('a2', a40, 0, 0), tri('a3', a20, 0, 0),
  sq('b1', bNoSalt, 4, 2), circ('b2', b40, 4, 2), tri('b3', b20, 4, 2), osq('b4', bClay, 4, 3),
  sq('c1', cNoSalt, 8, 4), circ('c2', c40, 8, 4), tri('c3', c20, 8, 4)
];

const labelMap = {a1: legendA[0], a2: legendA[1], a3: legendA[2],
  b1: legendB[0], b2: legendB[1], b3: legendB[2], b4: legendB[3],
  c1: legendC[0], c2: legendC[1], c3: legendC[2]};
const fmt = name => labelMap[name].replace('Na+', 'Na{sup|+}');
function legend(names, left, top, gap) {
  return {data: names, left, top, orient: 'vertical', itemGap: gap, itemWidth: 5, itemHeight: 5,
    formatter: fmt, selectedMode: false,
    textStyle: {fontSize: 14, color: TX, fontFamily: FONT, lineHeight: 16, padding: [0, 0, 0, 15],
      rich: {sup: {fontSize: 8, fontFamily: FONT, color: TX, verticalAlign: 'top', lineHeight: 8, padding: [0, 0, 6, 0]}}}};
}

const option = {
  backgroundColor: '#fff',
  animation: false,
  grid: grids,
  xAxis, yAxis, series,
  legend: [
    legend(['a1', 'a2', 'a3'], 281, 52, 7),
    legend(['b1', 'b2', 'b3', 'b4'], 133, 454, 5),
    legend(['c1', 'c2', 'c3'], 323, 886, 6)
  ],
  graphic: [
    {type: 'text', left: 20, top: 9, style: {text: 'a.', font: '20px "Liberation Serif", serif', fill: '#222'}},
    {type: 'text', left: 20, top: 427, style: {text: 'b.', font: '20px "Liberation Serif", serif', fill: '#222'}},
    {type: 'text', left: 32, top: 857, style: {text: 'c.', font: '20px "Liberation Serif", serif', fill: '#222'}}
  ]
};
const chart = echarts.init(document.getElementById('c'), null, {renderer: 'canvas'});
chart.setOption(option);
</script></body></html>
